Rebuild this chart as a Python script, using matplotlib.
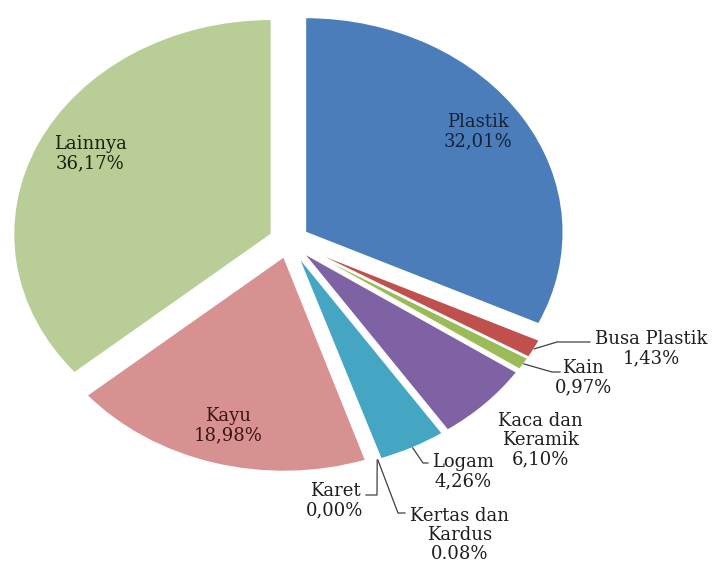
import matplotlib.pyplot as plt
import numpy as np

# ==========================
# DATA
# ==========================

kategori = ["Plastik", "Busa Plastik", "Kain", "Kaca dan Keramik", "Logam",
            "Kertas dan Kardus", "Karet", "Kayu", "Lainnya"]
persen = [32.01, 1.43, 0.97, 6.10, 4.26, 0.08, 0.00, 18.98, 36.17]
label_teks = ["Plastik\n32,01%", "Busa Plastik\n1,43%", "Kain\n0,97%",
              "Kaca dan\nKeramik\n6,10%", "Logam\n4,26%",
              "Kertas dan\nKardus\n0.08%", "Karet\n0,00%",
              "Kayu\n18,98%", "Lainnya\n36,17%"]

warna = ["#4A7DBA", "#C0504D", "#9BBB59", "#7F62A3", "#44A6C3",
         "#F79646", "#2C4D75", "#D69190", "#B9CD96"]

# ==========================
# UKURAN (pixel -> data)
# ==========================

W, H = 715, 565
CX, CY = 289, 241
RX, RY = 258, 215


def px(x, y):
    return (x - CX) / RX, (CY - y) / RY


fig = plt.figure(figsize=(W / 100, H / 100), dpi=100)
ax = fig.add_axes([0, 0, 1, 1])

wedges, _ = ax.pie(
    persen,
    colors=warna,
    startangle=90,
    counterclock=False,
    explode=[0.075] * len(persen),
    wedgeprops=dict(edgecolor="white", linewidth=1.2),
)

ax.set_xlim(-CX / RX, (W - CX) / RX)
ax.set_ylim(-(H - CY) / RY, CY / RY)
ax.set_aspect("auto")
ax.axis("off")

font = dict(family="DejaVu Serif", fontsize=13,
            linespacing=1.1, ha="center", va="center")

# label di dalam irisan
dalam = {
    "Plastik": ((478, 132), "#15223A"),
    "Kayu": ((228, 426), "#3E1414"),
    "Lainnya": ((90, 154), "#18220C"),
}

# label di luar: posisi teks, titik siku garis, ujung garis
luar = {
    "Busa Plastik": ((651, 349), [(557, 342), (590, 342)]),
    "Kain": ((583, 378), [(552, 372), (560, 372)]),
    "Kaca dan Keramik": ((540, 440), None),
    "Logam": ((463, 472), [(423, 463), (428, 463)]),
    "Kertas dan Kardus": ((460, 535), [(398, 513), (405, 513)]),
    "Karet": ((335, 501), [(377, 495), (366, 495)]),
}

for w, nama, teks in zip(wedges, kategori, label_teks):
    if nama in dalam:
        (x, y), c = dalam[nama]
        ax.text(*px(x, y), teks, color=c, **font)
        continue
    (x, y), garis = luar[nama]
    ax.text(*px(x, y), teks, color="#1E1E1E", **font)
    if garis is None:
        continue
    mid = np.deg2rad((w.theta1 + w.theta2) / 2)
    x0 = w.center[0] + w.r * np.cos(mid)
    y0 = w.center[1] + w.r * np.sin(mid)
    pts = [(x0, y0)] + [px(*p) for p in garis]
    ax.plot([p[0] for p in pts], [p[1] for p in pts],
            color="#404040", linewidth=0.9)

fig.savefig("out.png", dpi=100)
